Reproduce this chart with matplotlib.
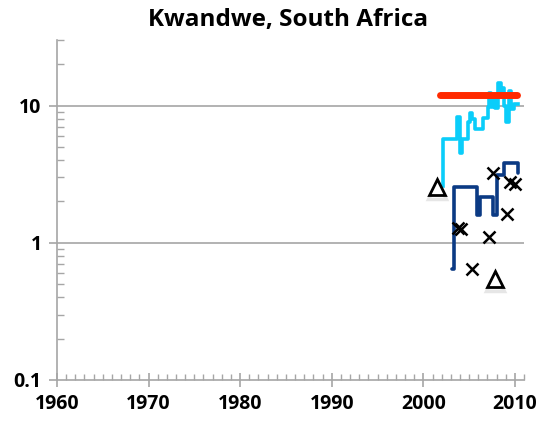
import matplotlib
matplotlib.use("Agg")
import matplotlib.pyplot as plt
from matplotlib.ticker import FixedLocator, LogLocator, MultipleLocator, NullFormatter

plt.rcParams["font.family"] = ["Open Sans", "DejaVu Sans"]

TITLE = "Kwandwe, South Africa"

# red reference line (constant level)
red_years = [2001.8, 2010.2]
red_values = [12.0, 12.0]

# light blue stepped series
cyan_years = [2002.1, 2002.1, 2003.7, 2004.05, 2004.2, 2004.85, 2005.05, 2005.35,
              2005.65, 2006.5, 2007.05, 2007.2, 2007.4, 2007.6, 2007.85, 2008.2,
              2008.45, 2008.65, 2008.85, 2009.05, 2009.35, 2009.6, 2009.9, 2010.3]
cyan_values = [2.6, 5.7, 8.3, 4.5, 5.7, 7.6, 8.8, 8.0,
               6.7, 8.1, 9.8, 12.4, 9.8, 11.5, 9.6, 14.5,
               12.5, 13.5, 10.0, 7.6, 12.8, 9.5, 10.2, 10.2]

# dark blue stepped series
navy_years = [2003.1, 2003.4, 2005.9, 2006.2, 2007.6, 2008.0, 2008.8, 2010.3]
navy_values = [0.64, 2.55, 1.6, 2.15, 1.6, 3.1, 3.8, 3.2]

# cross markers
cross_years = [2003.8, 2004.1, 2005.3, 2007.2, 2007.6, 2009.1, 2009.5, 2010.0]
cross_values = [1.28, 1.25, 0.64, 1.10, 3.23, 1.62, 2.75, 2.70]

# triangle markers
tri_years = [2001.5, 2007.8]
tri_values = [2.53, 0.54]

y_major = [0.1, 1, 10]
y_labels = ["0.1", "1", "10"]
x_major = [1960, 1970, 1980, 1990, 2000, 2010]

fig = plt.figure(figsize=(5.37, 4.26), dpi=100)
ax = fig.add_axes((0.106, 0.108, 0.87, 0.798))

grid_color = "#a6a6a6"
for v in y_major[1:]:
    ax.axhline(v, color=grid_color, linewidth=1.2, zorder=1)

ax.plot(red_years, red_values, color="#ff2a00", linewidth=5.0,
        solid_capstyle="round", zorder=3, clip_on=False)
ax.plot(cyan_years, cyan_values, color="#0acdfa", linewidth=2.6,
        drawstyle="steps-post", zorder=2, clip_on=False)
ax.plot(navy_years, navy_values, color="#0b3a84", linewidth=2.6,
        drawstyle="steps-post", solid_capstyle="round", zorder=4, clip_on=False)
ax.plot(cross_years, cross_values, linestyle="none", marker="x", markersize=9,
        markeredgewidth=1.8, color="black", zorder=5)
# soft shadow under the triangles
ax.plot(tri_years, [v * 0.965 for v in tri_values], linestyle="none", marker="^",
        markersize=13, markeredgewidth=2.5, markerfacecolor="none",
        markeredgecolor="#c8c8c8", alpha=0.45, zorder=4)
ax.plot(tri_years, tri_values, linestyle="none", marker="^", markersize=12,
        markeredgewidth=2.0, markerfacecolor="white", markeredgecolor="black", zorder=5)

ax.set_yscale("log")
ax.set_ylim(0.1, 30)
ax.set_xlim(1960, 2011)

ax.yaxis.set_major_locator(FixedLocator(y_major))
ax.set_yticklabels(y_labels)
ax.yaxis.set_minor_locator(LogLocator(base=10, subs=range(2, 10)))
ax.yaxis.set_minor_formatter(NullFormatter())
ax.xaxis.set_major_locator(FixedLocator(x_major))
ax.xaxis.set_minor_locator(MultipleLocator(1))

for side in ("top", "right"):
    ax.spines[side].set_visible(False)
for side in ("left", "bottom"):
    ax.spines[side].set_color(grid_color)
    ax.spines[side].set_linewidth(1.2)

ax.tick_params(axis="x", which="major", direction="inout", length=10, width=1.2,
               color=grid_color, labelsize=14, pad=5)
ax.tick_params(axis="x", which="minor", direction="in", length=4, width=1.0,
               color=grid_color)
ax.tick_params(axis="y", which="major", direction="out", length=6, width=1.2,
               color=grid_color, labelsize=14, pad=5)
ax.tick_params(axis="y", which="minor", direction="in", length=5, width=1.0,
               color=grid_color)
for lbl in ax.get_xticklabels() + ax.get_yticklabels():
    lbl.set_fontweight("bold")

fig.text(0.536, 0.953, TITLE, ha="center", va="center", fontsize=17.5, fontweight="bold")

fig.savefig("out.png", dpi=100)
